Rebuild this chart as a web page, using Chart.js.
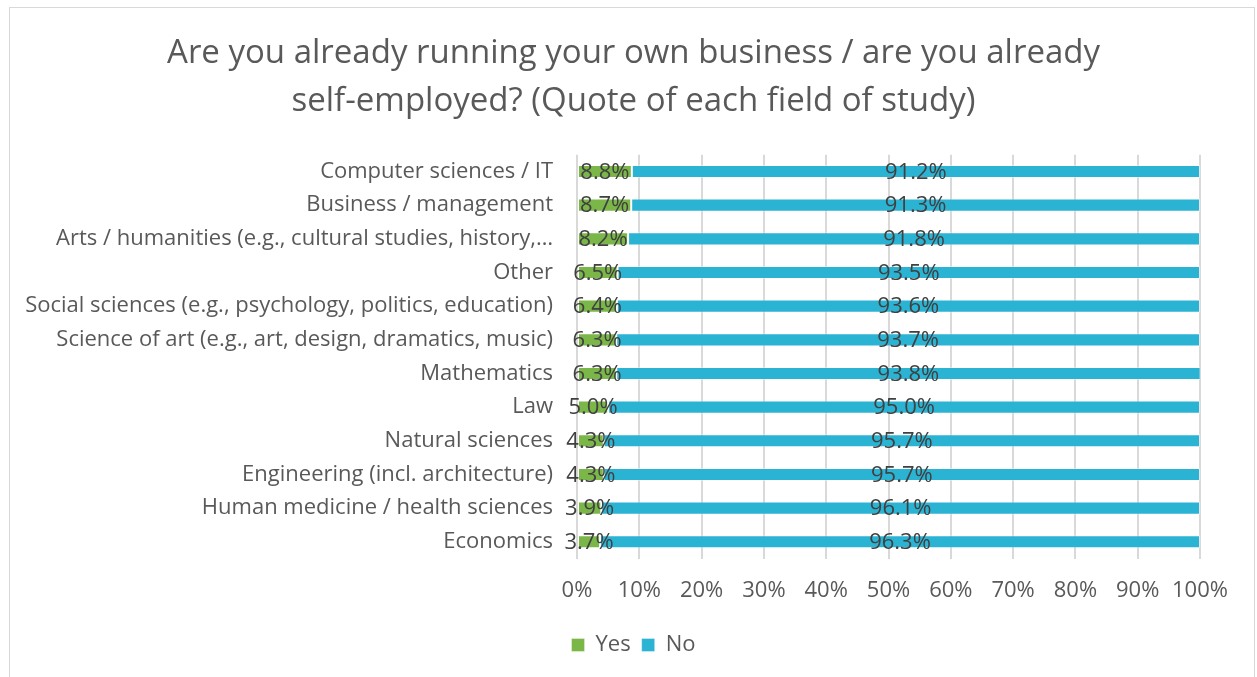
<!DOCTYPE html>
<html>
<head>
<meta charset="utf-8">
<script src="https://cdn.jsdelivr.net/npm/chart.js@4.4.1/dist/chart.umd.min.js"></script>
<style>
  html, body { margin: 0; padding: 0; background: #fff; }
  body { width: 1257px; height: 677px; overflow: hidden; position: relative; }
  #frame { position: absolute; left: 9px; top: 7px; width: 1246px; height: 700px; border: 1px solid #d9d9d9; box-sizing: border-box; }
  #wrap { position: absolute; left: 0; top: 0; width: 1257px; height: 677px; }
</style>
</head>
<body>
<div id="frame"></div>
<div id="wrap"><canvas id="chart"></canvas></div>
<script>
const categories = [
  "Computer sciences / IT",
  "Business / management",
  "Arts / humanities (e.g., cultural studies, history,\u2026",
  "Other",
  "Social sciences (e.g., psychology, politics, education)",
  "Science of art (e.g., art, design, dramatics, music)",
  "Mathematics",
  "Law",
  "Natural sciences",
  "Engineering (incl. architecture)",
  "Human medicine / health sciences",
  "Economics"
];
const yesValues = [8.8, 8.7, 8.2, 6.5, 6.4, 6.3, 6.3, 5.0, 4.3, 4.3, 3.9, 3.7];
const noValues  = [91.2, 91.3, 91.8, 93.5, 93.6, 93.7, 93.8, 95.0, 95.7, 95.7, 96.1, 96.3];
const seriesNames = ["Yes", "No"];
const titleLines = [
  "Are you already running your own business / are you already",
  "self-employed? (Quote of each field of study)"
];

const FONT = "'Open Sans', sans-serif";
const TEXT = "#595959";
const SIZE = 22;

// Writes each segment's percentage in the middle of its bar piece
const segmentLabels = {
  id: "segmentLabels",
  afterDatasetsDraw(chart) {
    const ctx = chart.ctx;
    ctx.save();
    ctx.font = SIZE + "px " + FONT;
    ctx.fillStyle = "#404040";
    ctx.textAlign = "center";
    ctx.textBaseline = "middle";
    chart.data.datasets.forEach((ds, di) => {
      const meta = chart.getDatasetMeta(di);
      meta.data.forEach((bar, i) => {
        const cx = (bar.x + bar.base) / 2;
        ctx.fillText(ds.data[i].toFixed(1) + "%", cx, bar.y + 1);
      });
    });
    ctx.restore();
  }
};

new Chart(document.getElementById("chart"), {
  type: "bar",
  data: {
    labels: categories,
    datasets: [
      { label: seriesNames[0], data: yesValues, backgroundColor: "#7ab648",
        borderColor: "rgba(255,255,255,0.35)", borderWidth: 1, borderSkipped: false },
      { label: seriesNames[1], data: noValues, backgroundColor: "#2bb3d4",
        borderColor: "rgba(255,255,255,0.35)", borderWidth: 1, borderSkipped: false }
    ]
  },
  options: {
    indexAxis: "y",
    responsive: true,
    maintainAspectRatio: false,
    animation: false,
    devicePixelRatio: 1,
    datasets: { bar: { categoryPercentage: 1, barPercentage: 0.39 } },
    layout: { padding: { left: 10, right: 0, top: 30, bottom: 11 } },
    scales: {
      x: {
        stacked: true,
        min: 0,
        max: 100,
        ticks: {
          stepSize: 10,
          callback: v => v + "%",
          color: TEXT,
          font: { family: FONT, size: SIZE },
          padding: 19
        },
        grid: { color: "#d9d9d9", lineWidth: 2, drawTicks: false },
        border: { display: false }
      },
      y: {
        stacked: true,
        ticks: {
          color: TEXT,
          font: { family: FONT, size: SIZE },
          padding: 24,
          autoSkip: false
        },
        grid: { display: false, drawTicks: false },
        border: { display: false },
        afterFit(scale) { scale.width = 567; }
      },
      // empty right-hand margin column beside the plot
      margin: {
        type: "category",
        axis: "y",
        position: "right",
        display: true,
        ticks: { display: false },
        grid: { display: false, drawTicks: false },
        border: { display: false },
        afterFit(scale) { scale.width = 57; }
      }
    },
    plugins: {
      title: {
        display: true,
        text: titleLines,
        color: TEXT,
        font: { family: FONT, size: 33, weight: "normal", lineHeight: 1.45 },
        padding: { top: 0, bottom: 29 }
      },
      legend: {
        position: "bottom",
        labels: {
          boxWidth: 13,
          boxHeight: 13,
          color: TEXT,
          font: { family: FONT, size: SIZE },
          padding: 11
        }
      },
      tooltip: { enabled: false }
    }
  },
  plugins: [segmentLabels]
});
</script>
</body>
</html>
